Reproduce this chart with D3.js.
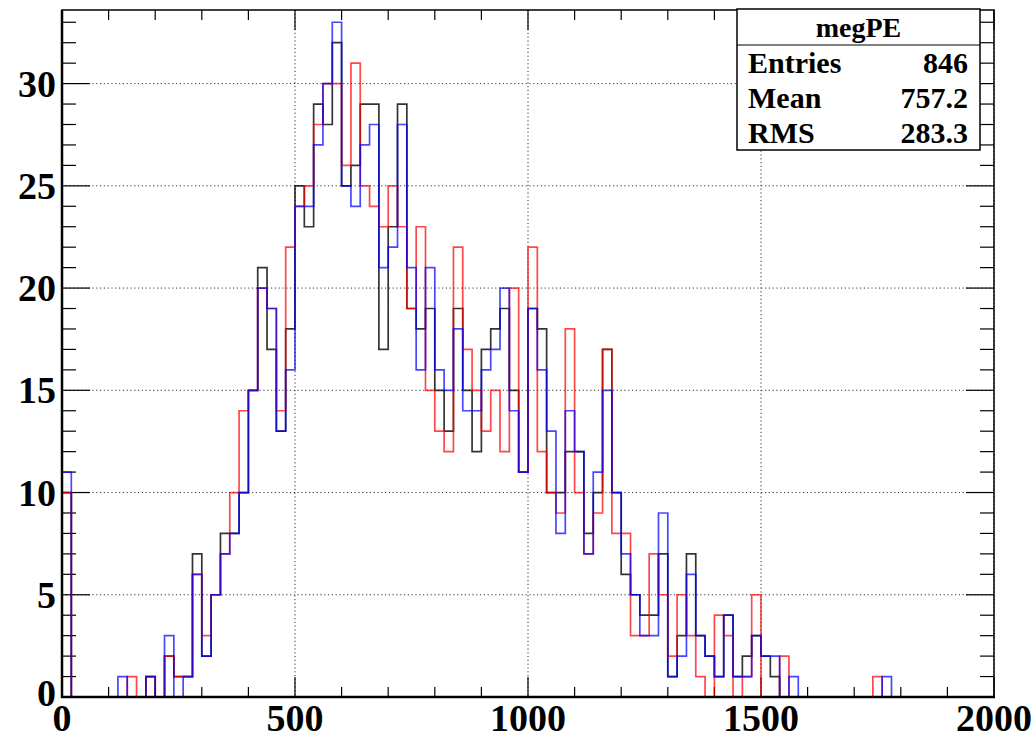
<!DOCTYPE html>
<html>
<head>
<meta charset="utf-8">
<script src="https://cdn.jsdelivr.net/npm/d3@7"></script>
<style>
  html, body { margin: 0; padding: 0; background: #fff; }
  svg { display: block; }
  text { font-family: "Liberation Serif", "DejaVu Serif", serif; font-weight: bold; fill: #000; }
</style>
</head>
<body>
<svg id="chart" width="1034" height="738"></svg>
<script>
// megPE spectra: 100 bins of width 20 from 0 to 2000
const binEdges = d3.range(0, 2001, 20);
const nBins = 100;

function fillBins(entries) {
  const arr = new Array(nBins).fill(0);
  for (const [i, v] of entries) arr[i] = v;
  return arr;
}

// black (reference) histogram contents, bin index -> count
const blackCounts = fillBins([
  [0,10],[9,1],[11,2],[12,1],[13,1],[14,7],[15,2],[16,5],[17,8],[18,8],[19,10],
  [20,15],[21,21],[22,17],[23,13],[24,18],[25,25],[26,23],[27,29],[28,28],[29,32],
  [30,25],[31,26],[32,29],[33,29],[34,17],[35,23],[36,29],[37,19],[38,18],[39,19],
  [40,15],[41,13],[42,19],[43,15],[44,12],[45,17],[46,18],[47,19],[48,15],[49,11],
  [50,19],[51,18],[52,10],[53,10],[54,12],[55,12],[56,8],[57,10],[58,17],[59,10],
  [60,6],[61,5],[62,4],[63,4],[64,7],[65,1],[66,3],[67,7],[68,3],[69,2],
  [70,1],[71,4],[72,1],[73,2],[74,3],[75,2],[76,1]
]);

// red histogram contents
const redCounts = fillBins([
  [0,10],[7,1],[9,1],[11,2],[12,1],[13,1],[14,6],[15,3],[16,5],[17,7],[18,10],[19,14],
  [20,15],[21,20],[22,19],[23,14],[24,22],[25,24],[26,25],[27,28],[28,30],[29,30],
  [30,26],[31,31],[32,25],[33,24],[34,23],[35,25],[36,23],[37,19],[38,23],[39,15],
  [40,13],[41,12],[42,22],[43,17],[44,15],[45,13],[46,15],[47,12],[48,20],[49,11],
  [50,22],[51,12],[52,10],[53,9],[54,18],[55,10],[56,7],[57,9],[58,17],[59,8],
  [60,8],[61,3],[62,3],[63,7],[64,5],[65,2],[66,5],[67,3],[68,1],
  [70,4],[71,3],[73,1],[74,5],[77,2],[87,1]
]);

// blue histogram contents
const blueCounts = fillBins([
  [0,11],[6,1],[9,1],[11,3],[13,1],[14,6],[15,2],[16,5],[17,7],[18,8],[19,10],
  [20,15],[21,20],[22,19],[23,13],[24,16],[25,24],[26,24],[27,27],[28,30],[29,33],
  [30,25],[31,24],[32,27],[33,28],[34,21],[35,22],[36,28],[37,21],[38,16],[39,21],
  [40,16],[41,15],[42,18],[43,14],[44,14],[45,16],[46,17],[47,20],[48,14],[49,11],
  [50,19],[51,16],[52,13],[53,8],[54,14],[55,12],[56,7],[57,11],[58,15],[59,10],
  [60,7],[61,5],[62,3],[63,3],[64,9],[65,1],[66,2],[67,6],[68,3],[69,2],
  [70,1],[71,4],[72,1],[73,1],[74,3],[75,2],[76,2],[78,1],[88,1]
]);

const seriesNames = ["black", "red", "blue"];
const seriesColors = ["#000000", "#ff0000", "#0000ff"];
const seriesData = [blackCounts, redCounts, blueCounts];

const xTickValues = [0, 500, 1000, 1500, 2000];
const yTickValues = [0, 5, 10, 15, 20, 25, 30];

const statsTitle = "megPE";
const statsLabels = ["Entries", "Mean", "RMS"];
const statsValues = ["846", "757.2", "283.3"];

// y range: 1.05 x max of the first-drawn histogram
const yMax = d3.max(blackCounts) * 1.05;

const frame = { left: 62, right: 994, top: 10, bottom: 697 };
const svg = d3.select("#chart");

const x = d3.scaleLinear().domain([0, 2000]).range([frame.left, frame.right]);
const y = d3.scaleLinear().domain([0, yMax]).range([frame.bottom, frame.top]);

svg.append("defs").append("clipPath").attr("id", "plotClip")
  .append("rect")
  .attr("x", frame.left).attr("y", frame.top - 1)
  .attr("width", frame.right - frame.left).attr("height", frame.bottom - frame.top + 2);

// dotted grid
const grid = svg.append("g").attr("stroke", "#333").attr("stroke-width", 1)
  .attr("stroke-dasharray", "1.2,2.6").attr("fill", "none");
grid.selectAll("line.gx").data(xTickValues).join("line")
  .attr("x1", d => x(d)).attr("x2", d => x(d))
  .attr("y1", frame.top).attr("y2", frame.bottom);
grid.selectAll("line.gy").data(yTickValues).join("line")
  .attr("x1", frame.left).attr("x2", frame.right)
  .attr("y1", d => y(d)).attr("y2", d => y(d));

// tick marks on all four sides (ticks point inward)
const ticks = svg.append("g").attr("stroke", "#000").attr("stroke-width", 1.2);
const xMinor = d3.range(0, 2001, 100);
const yMinor = d3.range(0, Math.floor(yMax) + 1, 1);
const xTickLen = d => (d % 500 === 0 ? 20 : 10);
const yTickLen = d => (d % 5 === 0 ? 28 : 14);
ticks.selectAll("line.xb").data(xMinor).join("line")
  .attr("x1", d => x(d)).attr("x2", d => x(d))
  .attr("y1", frame.bottom).attr("y2", d => frame.bottom - xTickLen(d));
ticks.selectAll("line.xt").data(xMinor).join("line")
  .attr("x1", d => x(d)).attr("x2", d => x(d))
  .attr("y1", frame.top).attr("y2", d => frame.top + xTickLen(d));
ticks.selectAll("line.yl").data(yMinor).join("line")
  .attr("x1", frame.left).attr("x2", d => frame.left + yTickLen(d))
  .attr("y1", d => y(d)).attr("y2", d => y(d));
ticks.selectAll("line.yr").data(yMinor).join("line")
  .attr("x1", frame.right).attr("x2", d => frame.right - yTickLen(d))
  .attr("y1", d => y(d)).attr("y2", d => y(d));

// step histograms
const stepLine = d3.line()
  .x(d => x(d[0])).y(d => y(d[1]))
  .curve(d3.curveStepAfter);

const plot = svg.append("g").attr("clip-path", "url(#plotClip)");
seriesData.forEach((counts, k) => {
  const pts = [[0, 0]];
  counts.forEach((v, i) => pts.push([binEdges[i], v]));
  pts.push([2000, 0]);
  plot.append("path")
    .datum(pts)
    .attr("class", "hist-" + seriesNames[k])
    .attr("d", stepLine)
    .attr("fill", "none")
    .attr("stroke", seriesColors[k])
    .attr("stroke-width", 1.7)
    .attr("stroke-opacity", k === 0 ? 0.8 : 0.72)
    .attr("stroke-linejoin", "miter");
});

// frame
svg.append("rect")
  .attr("x", frame.left).attr("y", frame.top)
  .attr("width", frame.right - frame.left).attr("height", frame.bottom - frame.top)
  .attr("fill", "none").attr("stroke", "#000").attr("stroke-width", 1.5);
svg.append("line")
  .attr("x1", frame.left - 1).attr("x2", frame.right + 1)
  .attr("y1", frame.bottom).attr("y2", frame.bottom)
  .attr("stroke", "#000").attr("stroke-width", 2.5);
svg.append("line")
  .attr("x1", frame.left).attr("x2", frame.left)
  .attr("y1", frame.top).attr("y2", frame.bottom + 1)
  .attr("stroke", "#000").attr("stroke-width", 2.5);

// axis labels
svg.append("g").selectAll("text").data(xTickValues).join("text")
  .attr("x", d => x(d)).attr("y", 731)
  .attr("text-anchor", "middle")
  .style("font-size", "38px")
  .text(d => d3.format("d")(d));
svg.append("g").selectAll("text").data(yTickValues).join("text")
  .attr("x", 56).attr("y", d => y(d) + 13 - (d === 0 ? 4 : 0))
  .attr("text-anchor", "end")
  .style("font-size", "38px")
  .text(d => d3.format("d")(d));

// statistics box
const box = { x0: 737, x1: 980, y0: 9, y1: 150, titleY: 45 };
const stats = svg.append("g");
stats.append("rect")
  .attr("x", box.x0).attr("y", box.y0)
  .attr("width", box.x1 - box.x0).attr("height", box.y1 - box.y0)
  .attr("fill", "#fff").attr("stroke", "#000").attr("stroke-width", 1.5);
stats.append("line")
  .attr("x1", box.x0).attr("x2", box.x1)
  .attr("y1", box.titleY).attr("y2", box.titleY)
  .attr("stroke", "#000").attr("stroke-width", 1.2);
stats.append("text")
  .attr("x", (box.x0 + box.x1) / 2).attr("y", 37)
  .attr("text-anchor", "middle").style("font-size", "28px")
  .text(statsTitle);
statsLabels.forEach((lab, i) => {
  const by = 73 + i * 35;
  stats.append("text").attr("x", 748).attr("y", by)
    .style("font-size", "30px").text(lab);
  stats.append("text").attr("x", 968).attr("y", by)
    .attr("text-anchor", "end").style("font-size", "30px").text(statsValues[i]);
});
</script>
</body>
</html>
